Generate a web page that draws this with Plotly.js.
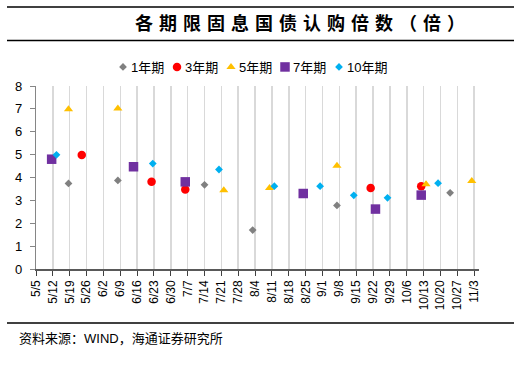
<!DOCTYPE html>
<html>
<head>
<meta charset="utf-8">
<script src="https://cdn.plot.ly/plotly-3.0.1.min.js"></script>
<style>
html,body{margin:0;padding:0;background:#fff;}
#chart{width:520px;height:369px;}
.gtitle{letter-spacing:6px;}
.legend .legendtext{transform:translateX(-12px);}
.legend .scrollbox{clip-path:none !important;}
</style>
</head>
<body>
<div id="chart"></div>
<script>
// Series names
var seriesNames = ['1年期', '3年期', '5年期', '7年期', '10年期'];

// 1年期
var dates1 = ['2017-05-18 12:00', '2017-06-08', '2017-07-14', '2017-08-03', '2017-09-07', '2017-10-24'];
var vals1  = [3.74, 3.87, 3.68, 1.70, 2.78, 3.33];

// 3年期
var dates3 = ['2017-05-24', '2017-06-22', '2017-07-06', '2017-09-21', '2017-10-12'];
var vals3  = [4.98, 3.81, 3.48, 3.54, 3.62];

// 5年期
var dates5 = ['2017-05-18 12:00', '2017-06-08', '2017-07-22', '2017-08-10', '2017-09-07', '2017-10-14', '2017-11-02'];
var vals5  = [6.98, 7.02, 3.44, 3.54, 4.51, 3.71, 3.85];

// 7年期
var dates7 = ['2017-05-11 12:00', '2017-06-14 12:00', '2017-07-06', '2017-08-24', '2017-09-23', '2017-10-12'];
var vals7  = [4.80, 4.47, 3.81, 3.30, 2.62, 3.23];

// 10年期
var dates10 = ['2017-05-13 12:00', '2017-06-22 12:00', '2017-07-20', '2017-08-12', '2017-08-31', '2017-09-14', '2017-09-28', '2017-10-19'];
var vals10  = [4.99, 4.61, 4.35, 3.62, 3.62, 3.22, 3.11, 3.75];

var axisStart = '2017-05-05';
var axisEnd = '2017-11-05';

var cjk = '"Liberation Sans", Arial, "Noto Sans CJK SC", sans-serif';

var traces = [
  {x: dates1, y: vals1, name: seriesNames[0], type: 'scatter', mode: 'markers',
   marker: {symbol: 'diamond', size: 6, color: '#808080'}},
  {x: dates3, y: vals3, name: seriesNames[1], type: 'scatter', mode: 'markers',
   marker: {symbol: 'circle', size: 8.5, color: '#FF0000'}},
  {x: dates5, y: vals5, name: seriesNames[2], type: 'scatter', mode: 'markers',
   marker: {symbol: 'triangle-up', size: 8, color: '#FFC000'}},
  {x: dates7, y: vals7, name: seriesNames[3], type: 'scatter', mode: 'markers',
   marker: {symbol: 'square', size: 9.5, color: '#7030A0'}},
  {x: dates10, y: vals10, name: seriesNames[4], type: 'scatter', mode: 'markers',
   marker: {symbol: 'diamond', size: 6, color: '#00B0F0'}}
];

var L = 36, R = 41, T = 86, B = 100;
var W = 520, H = 369;
var pw = W - L - R, ph = H - T - B;
function px(x){ return (x - L) / pw; }
function py(y){ return (H - B - y) / ph; }

var layout = {
  width: W, height: H,
  margin: {l: L, r: R, t: T, b: B, pad: 0},
  paper_bgcolor: '#fff', plot_bgcolor: '#fff',
  font: {family: cjk, size: 12, color: '#000'},
  title: {
    text: '各期限固息国债认购倍数（倍）',
    font: {family: '"Noto Sans CJK SC", sans-serif', size: 18, color: '#000', weight: 'bold'},
    x: px(303), xanchor: 'center', xref: 'paper',
    y: 1 - 23.5 / H, yanchor: 'middle', yref: 'container'
  },
  showlegend: true,
  legend: {
    orientation: 'h',
    x: px(103), xanchor: 'left',
    y: py(67), yanchor: 'middle',
    font: {family: cjk, size: 13, color: '#000'},
    bgcolor: 'rgba(0,0,0,0)',
    itemwidth: 30,
    entrywidth: 9, entrywidthmode: 'pixels',
    tracegroupgap: 0
  },
  xaxis: {
    type: 'date',
    range: [axisStart, axisEnd],
    tick0: axisStart,
    dtick: 7 * 24 * 3600 * 1000,
    tickformat: '%-m/%-d',
    tickangle: -90,
    ticks: 'outside', ticklen: 5, tickwidth: 1, tickcolor: '#404040',
    showgrid: true, gridcolor: '#d9d9d9', gridwidth: 1.5,
    showline: true, linecolor: '#595959', linewidth: 1.5,
    zeroline: false,
    tickfont: {family: cjk, size: 12, color: '#000'},
    fixedrange: true
  },
  yaxis: {
    range: [0, 8],
    dtick: 1,
    tick0: 0,
    ticks: 'outside', ticklen: 5, tickwidth: 1, tickcolor: '#868686',
    ticklabelstandoff: 5,
    showgrid: false,
    showline: true, linecolor: '#868686', linewidth: 1.2,
    zeroline: false,
    tickfont: {family: cjk, size: 13, color: '#000'},
    fixedrange: true
  },
  shapes: [
    {type: 'line', xref: 'paper', yref: 'paper', x0: px(7), x1: px(514), y0: py(7), y1: py(7),
     line: {color: '#000', width: 1.3}},
    {type: 'line', xref: 'paper', yref: 'paper', x0: px(7), x1: px(514), y0: py(40.5), y1: py(40.5),
     line: {color: '#000', width: 1.3}},
    {type: 'line', xref: 'paper', yref: 'paper', x0: px(7), x1: px(514), y0: py(323), y1: py(323),
     line: {color: '#000', width: 1.3}}
  ],
  annotations: [
    {text: '资料来源：WIND，海通证券研究所', xref: 'paper', yref: 'paper',
     x: px(17), xanchor: 'left', y: py(338), yanchor: 'middle',
     showarrow: false,
     font: {family: '"Liberation Sans", "Noto Sans CJK SC", sans-serif', size: 13, color: '#000'}}
  ]
};

Plotly.newPlot('chart', traces, layout, {displayModeBar: false, staticPlot: true});
</script>
</body>
</html>
